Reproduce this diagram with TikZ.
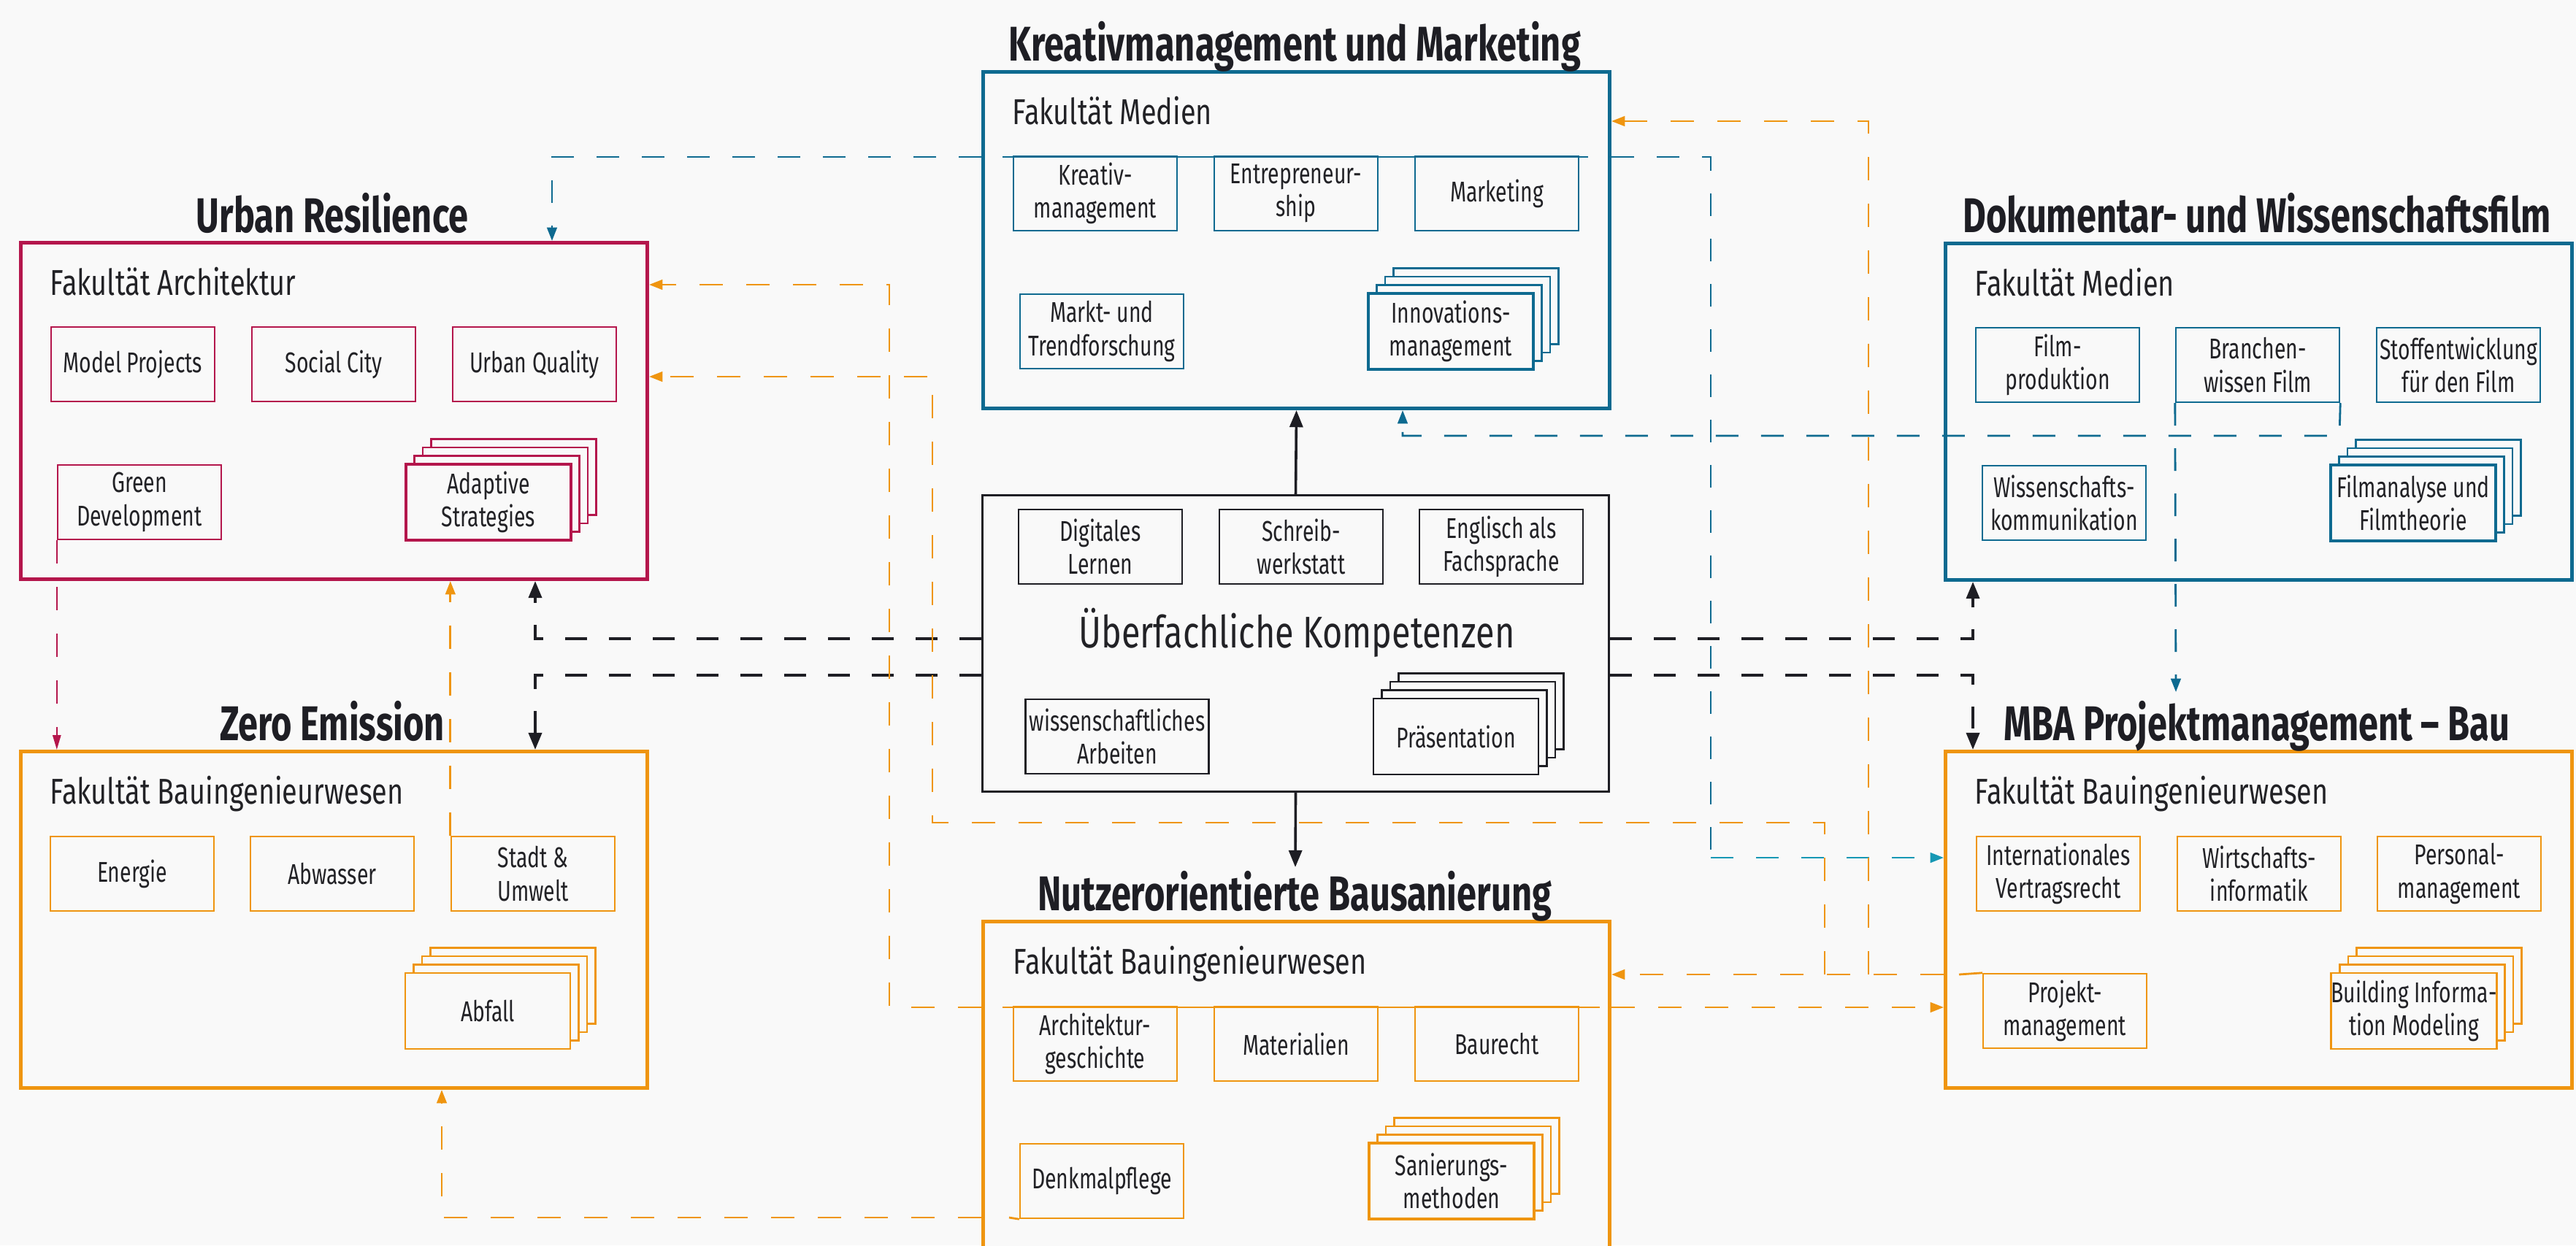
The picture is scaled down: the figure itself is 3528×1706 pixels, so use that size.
\documentclass[tikz,border=0pt]{standalone}
\usepackage{fontspec}
\setmainfont{Fira Sans}[FakeStretch=0.77]
\newfontfamily\fakfont{Fira Sans}[FakeStretch=0.77]
\newfontfamily\bodyfont{Fira Sans}[FakeStretch=0.725]
\newfontfamily\ttlfont{Fira Sans}[FakeStretch=0.73]
\usetikzlibrary{arrows.meta}
\definecolor{bgc}{RGB}{249,249,249}
\definecolor{crim}{RGB}{180,22,76}
\definecolor{teal1}{RGB}{14,106,144}
\definecolor{cyan1}{RGB}{22,152,180}
\definecolor{orng}{RGB}{239,149,16}
\definecolor{blk}{RGB}{30,30,36}
\definecolor{txt}{RGB}{34,34,38}
\newcommand{\mkstack}[6]{%
  \foreach \k in {3,2,1} {\node[layer, draw=#4] (#1l\k) at ({#2+11.5*\k},{#3-11.5*\k}) {};}
  \node[layer, draw=#4, #6] (#1) at (#2,#3) {#5};
}
\begin{document}
\begin{tikzpicture}[x=0.25pt, y=-0.25pt,
  bigbox/.style={draw, line width=1.25pt, fill=bgc, minimum width=214.5pt, minimum height=115.25pt, inner sep=0pt, anchor=north west},
  ibox/.style={draw, line width=0.6pt, fill=bgc, minimum width=56pt, minimum height=25.5pt, inner sep=0pt, align=center, text=txt, font=\bodyfont\fontsize{9.8}{11.3}\selectfont},
  layer/.style={ibox, minimum width=56.5pt, minimum height=26pt},
  front/.style={line width=1.1pt},
  ttl/.style={anchor=base, inner sep=0pt, text=blk, font=\ttlfont\bfseries\fontsize{16.7}{20}\selectfont},
  fak/.style={anchor=base west, inner sep=0pt, text=txt, font=\fakfont\fontsize{12.3}{14}\selectfont},
  oline/.style={draw=orng, line width=0.7pt, dash pattern=on 8pt off 8pt},
  osolid/.style={draw=orng, line width=0.7pt},
  tline/.style={draw=teal1, line width=0.7pt, dash pattern=on 7.75pt off 7.75pt},
  tsolid/.style={draw=teal1, line width=0.7pt},
  bdash/.style={draw=blk, line width=1pt, dash pattern=on 7.5pt off 7.5pt},
  bsolid/.style={draw=blk, line width=0.9pt},
  cline/.style={draw=crim, line width=0.55pt, dash pattern=on 8pt off 8pt},
  arrO/.style={-{Triangle[length=4.6pt,width=3.4pt]}},
  arrB/.style={-{Triangle[length=5.8pt,width=4.5pt]}},
  arrC/.style={-{Triangle[length=5pt,width=2.8pt]}}
]
\useasboundingbox (0,0) rectangle (3528,1706);
\fill[bgc] (0,0) rectangle (3528,1706);

% ---------------- Urban Resilience
\begin{scope}[shift={(26,330)}]
  \node[bigbox, draw=crim] (UR) at (0,0) {};
  \node[ttl] (URt) at (429,-12) {Urban Resilience};
  \node[fak] (URf) at (42,74) {Fakultät Architektur};
  \node[ibox, draw=crim] (URa) at (156,169) {Model Projects};
  \node[ibox, draw=crim] (URb) at (431,169) {Social City};
  \node[ibox, draw=crim] (URc) at (706,169) {Urban Quality};
  \node[ibox, draw=crim] (URd) at (165,358) {Green\\Development};
  \mkstack{URe}{643}{358}{crim}{Adaptive\\Strategies}{front}
\end{scope}

% ---------------- Kreativmanagement
\begin{scope}[shift={(1344,96)}]
  \node[bigbox, draw=teal1] (KM) at (0,0) {};
  \node[ttl] (KMt) at (429,-13) {Kreativmanagement und Marketing};
  \node[fak] (KMf) at (42,74) {Fakultät Medien};
  \node[ibox, draw=teal1] (KMa) at (156,169) {Kreativ-\\management};
  \node[ibox, draw=teal1] (KMb) at (431,169) {Entrepreneur-\\ship};
  \node[ibox, draw=teal1] (KMc) at (706,169) {Marketing};
  \node[ibox, draw=teal1] (KMd) at (165,358) {Markt- und\\Trendforschung};
  \mkstack{KMe}{643}{358}{teal1}{Innovations-\\management}{front}
\end{scope}

% ---------------- Dokumentar
\begin{scope}[shift={(2662,331)}]
  \node[bigbox, draw=teal1] (DW) at (0,0) {};
  \node[ttl] (DWt) at (429,-13) {Dokumentar- und Wissenschaftsfilm};
  \node[fak] (DWf) at (42,74) {Fakultät Medien};
  \node[ibox, draw=teal1] (DWa) at (156,169) {Film-\\produktion};
  \node[ibox, draw=teal1] (DWb) at (430,169) {Branchen-\\wissen Film};
  \node[ibox, draw=teal1] (DWc) at (705,169) {Stoffentwicklung\\für den Film};
  \node[ibox, draw=teal1] (DWd) at (165,358) {Wissenschafts-\\kommunikation};
  \mkstack{DWe}{643}{358}{teal1}{Filmanalyse und\\Filmtheorie}{front}
\end{scope}

% ---------------- Zero Emission
\begin{scope}[shift={(26,1027)}]
  \node[bigbox, draw=orng] (ZE) at (0,0) {};
  \node[ttl] (ZEt) at (429,-13) {Zero Emission};
  \node[fak] (ZEf) at (42,74) {Fakultät Bauingenieurwesen};
  \node[ibox, draw=orng] (ZEa) at (155,170) {Energie};
  \node[ibox, draw=orng] (ZEb) at (429,170) {Abwasser};
  \node[ibox, draw=orng] (ZEc) at (704,170) {Stadt \&\\Umwelt};
  \mkstack{ZEe}{642}{358}{orng}{Abfall}{}
\end{scope}

% ---------------- Nutzerorientierte Bausanierung
\begin{scope}[shift={(1344,1260)}]
  \node[bigbox, draw=orng] (NB) at (0,0) {};
  \node[ttl] (NBt) at (429,-13) {Nutzerorientierte Bausanierung};
  \node[fak] (NBf) at (43,74) {Fakultät Bauingenieurwesen};
  \node[ibox, draw=orng] (NBa) at (156,170) {Architektur-\\geschichte};
  \node[ibox, draw=orng] (NBb) at (431,170) {Materialien};
  \node[ibox, draw=orng] (NBc) at (706,170) {Baurecht};
  \node[ibox, draw=orng] (NBd) at (165,358) {Denkmalpflege};
  \mkstack{NBe}{644}{358}{orng}{Sanierungs-\\methoden}{front}
\end{scope}

% ---------------- MBA
\begin{scope}[shift={(2662,1027)}]
  \node[bigbox, draw=orng] (MBA) at (0,0) {};
  \node[ttl] (MBAt) at (429,-13) {MBA Projektmanagement – Bau};
  \node[fak] (MBAf) at (42,74) {Fakultät Bauingenieurwesen};
  \node[ibox, draw=orng] (MBAa) at (157,170) {Internationales\\Vertragsrecht};
  \node[ibox, draw=orng] (MBAb) at (432,170) {Wirtschafts-\\informatik};
  \node[ibox, draw=orng] (MBAc) at (706,170) {Personal-\\management};
  \node[ibox, draw=orng] (MBAd) at (166,358) {Projekt-\\management};
  \mkstack{MBAe}{644}{358}{orng}{Building Informa-\\tion Modeling}{}
\end{scope}

% ---------------- Ueberfachliche Kompetenzen
\begin{scope}[shift={(1344,677)}]
  \node[bigbox, draw=blk, line width=0.75pt, minimum height=101.5pt] (UK) at (0,0) {};
  \node[anchor=base, inner sep=0pt, text=txt, font=\fakfont\fontsize{15.2}{17}\selectfont] (UKt) at (432,210) {Überfachliche Kompetenzen};
  \node[ibox, draw=blk] (UKa) at (163,72) {Digitales\\Lernen};
  \node[ibox, draw=blk] (UKb) at (438,72) {Schreib-\\werkstatt};
  \node[ibox, draw=blk] (UKc) at (712,72) {Englisch als\\Fachsprache};
  \node[ibox, draw=blk, minimum width=62.75pt] (UKd) at (186,332) {wissenschaftliches\\Arbeiten};
  \mkstack{UKe}{650}{332}{blk}{Präsentation}{}
\end{scope}

% ---------------- connectors: black
\coordinate (b2) at (1774,1188);
\coordinate (b3) at (733,875);
\coordinate (b4) at (733,925);
\coordinate (b5) at (2702,875);
\coordinate (b6) at (2702,925);
\draw[bsolid, arrB] (UK.north) -- (KM.south);
\draw[bsolid, arrB] (UK.south) -- (b2);
\draw[bdash, arrB] (UK.west |- b3) -- (b3) -- (UR.south -| b3);
\draw[bdash, arrB] (UK.west |- b4) -- (b4) -- (ZE.north -| b4);
\draw[bdash, arrB] (UK.east |- b5) -- (b5) -- (DW.south -| b5);
\draw[bdash, arrB] (UK.east |- b6) -- (b6) -- (MBA.north -| b6);

% ---------------- connectors: teal
\coordinate (t1) at (756,215);
\coordinate (t1s) at (1373,215);
\coordinate (t1e) at (2175,215);
\coordinate (t2a) at (2343,215);
\coordinate (t2b) at (2343,1175);
\coordinate (t3a) at (3204,597);
\coordinate (t3b) at (1921,597);
\coordinate (t4) at (2980,948);
\draw[tline, arrO] (KM.west |- t1) -- (t1) -- (UR.north -| t1);
\draw[tsolid] (t1s) -- (t1e);
\draw[tline] (KM.east |- t2a) -- (t2a) -- (t2b);
\draw[tline, draw=cyan1, arrO] (t2b) -- (MBA.west |- t2b);
\draw[tline, arrO] (DWb.south east) -- (t3a) -- (t3b) -- (KM.south -| t3b);
\draw[tline, arrO] (DWb.south west) -- (t4);

% ---------------- connectors: crimson
\draw[cline, arrC] (URd.south west) -- (ZE.north -| URd.south west);

% ---------------- connectors: orange
\coordinate (o1a) at (1218,1380);
\coordinate (o1b) at (1218,390);
\coordinate (o1s) at (1373,1380);
\coordinate (o1e) at (2191,1380);
\coordinate (o2) at (2683,1335);
\coordinate (o2a) at (2559,1335);
\coordinate (o2b) at (2559,166);
\coordinate (o3a) at (2499,1335);
\coordinate (o3b) at (2499,1127);
\coordinate (o3c) at (1277,1127);
\coordinate (o3d) at (1277,516);
\coordinate (o4s) at (1382,1668);
\coordinate (o4) at (605,1668);
\draw[oline, arrO] (NB.west |- o1a) -- (o1a) -- (o1b) -- (UR.east |- o1b);
\draw[oline, arrO] (NB.east |- o1a) -- (MBA.west |- o1a);
\draw[osolid] (o1s) -- (o1e);
\draw[osolid] (MBAd.north west) -- (o2);
\draw[oline, arrO] (MBA.west |- o2) -- (NB.east |- o2);
\draw[oline, arrO] (o2a) -- (o2b) -- (KM.east |- o2b);
\draw[oline, arrO] (o3a) -- (o3b) -- (o3c) -- (o3d) -- (UR.east |- o3d);
\draw[osolid] (o4s) -- (NBd.south west);
\draw[oline, arrO] (NB.west |- o4) -- (o4) -- (ZE.south -| o4);
\draw[oline, arrO] (ZEc.north west) -- (UR.south -| ZEc.north west);
\end{tikzpicture}
\end{document}
